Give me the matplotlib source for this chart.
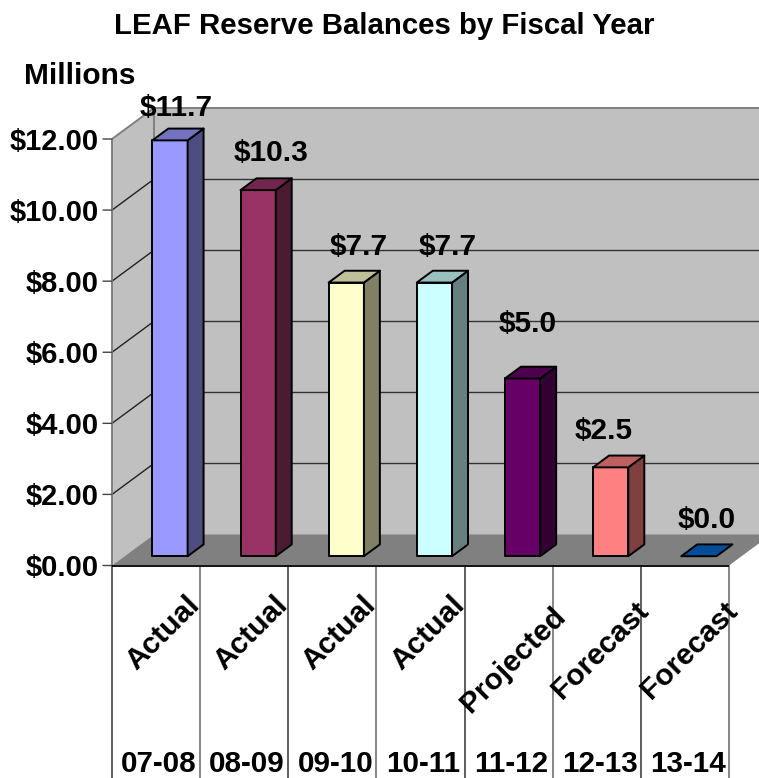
import matplotlib as mpl
mpl.use('Agg')
from matplotlib import pyplot as plt
from matplotlib.patches import Polygon
from matplotlib.colors import to_rgb

plt.rcParams['font.family'] = ['Liberation Sans', 'DejaVu Sans']
plt.rcParams['font.weight'] = 'bold'

# reserve balances, $ millions
years = ['07-08', '08-09', '09-10', '10-11', '11-12', '12-13', '13-14']
status = ['Actual', 'Actual', 'Actual', 'Actual', 'Projected', 'Forecast', 'Forecast']
balances = [11.7, 10.3, 7.7, 7.7, 5.0, 2.5, 0.0]
balance_labels = ['$11.7', '$10.3', '$7.7', '$7.7', '$5.0', '$2.5', '$0.0']
bar_colors = ['#9999FF', '#993366', '#FFFFCC', '#CCFFFF', '#660066', '#FF8080', '#0066CC']
yticks = [0, 2, 4, 6, 8, 10, 12]

# label nudges in pixels
label_dx = [-18, -11, -11, -11, -19, -31, -16]
label_dy = [7, 11, 10, 10, 29, 11, 10]
status_dx = [7, 7, 7, 7, 4, 4, 4]
status_dy = [-67, -67, -67, -67, -95, -85, -85]

W, H = 759, 778
fig = plt.figure(figsize=(W / 100, H / 100), dpi=100, facecolor='white')

# the axes is the front plane of the fake 3D box
left, right, base, top = 112, 729, 565.5, 139
ax = fig.add_axes([left / W, 1 - base / H, (right - left) / W, (base - top) / H])
ax.set_xlim(0, len(years))
ax.set_ylim(0, 12)
ax.axis('off')

# how far one full unit of depth moves a point, in data units
depth_x = 42 / ((right - left) / len(years))
depth_y = 31 / ((base - top) / 12)


def proj(x, y, d):
    return (x + d * depth_x, y + d * depth_y)


def face(pts, color, ec='none', lw=0, z=1):
    ax.add_patch(Polygon([proj(*p) for p in pts], closed=True, facecolor=color,
                         edgecolor=ec, linewidth=lw, clip_on=False, zorder=z,
                         joinstyle='round'))


def seg(p0, p1, color, lw, z=2):
    a, b = proj(*p0), proj(*p1)
    ax.plot([a[0], b[0]], [a[1], b[1]], color=color, lw=lw, clip_on=False, zorder=z,
            solid_capstyle='butt')


def shade(c, f):
    return tuple(v * f for v in to_rgb(c))


n = len(years)
wall = '#C0C0C0'
floor = '#808080'

# walls and floor
face([(0, 0, 1), (n + 1, 0, 1), (n + 1, 12, 1), (0, 12, 1)], wall)
face([(0, 0, 0), (0, 12, 0), (0, 12, 1), (0, 0, 1)], wall)
face([(0, 0, 0), (n, 0, 0), (n, 0, 1), (0, 0, 1)], floor)

# gridlines along side wall and back wall
for v in yticks[1:-1]:
    seg((0, v, 0), (0, v, 1), '#222222', 1.0)
    seg((0, v, 1), (n + 1, v, 1), '#333333', 1.0)
seg((0, 12, 0), (0, 12, 1), '#808080', 1.4)
seg((0, 12, 1), (n + 1, 12, 1), '#808080', 1.4)
seg((0, 0, 0), (0, 12, 0), '#808080', 1.4)
seg((0, 0, 1), (0, 12, 1), '#808080', 1.4)

# bars sit between these depths, inside each category slot
d0, d1 = 0.3, 0.68
slot0, slot1 = 0.315, 0.715
for i, (v, c) in enumerate(zip(balances, bar_colors)):
    x0, x1 = i + slot0, i + slot1
    if v > 0:
        face([(x0, 0, d0), (x1, 0, d0), (x1, v, d0), (x0, v, d0)], c, 'black', 1.4, 5)
        face([(x1, 0, d0), (x1, 0, d1), (x1, v, d1), (x1, v, d0)], shade(c, 0.5), 'black', 1.4, 5)
    face([(x0, v, d0), (x1, v, d0), (x1, v, d1), (x0, v, d1)], shade(c, 0.75), 'black', 1.4, 5)
    tx, ty = proj((x0 + x1) / 2, v, d1)
    ax.annotate(balance_labels[i], (tx + 0.09, ty), xytext=(label_dx[i], label_dy[i]),
                textcoords='offset pixels', ha='center', va='bottom', fontsize=21.5,
                color='black', zorder=8, annotation_clip=False)

# front edge of the floor and the value axis
seg((0, 0, 0), (n, 0, 0), '#111111', 1.4, 6)
for v in yticks:
    ax.annotate('', (0, v), xytext=(-9, 0), textcoords='offset pixels',
                arrowprops=dict(arrowstyle='-', color='#444444', lw=1.0, shrinkA=0, shrinkB=0),
                annotation_clip=False)
    ax.annotate('$%.2f' % v, (0, v), xytext=(-13, 0), textcoords='offset pixels',
                ha='right', va='center_baseline', fontsize=21, annotation_clip=False)

# category separators run down to the bottom edge of the figure
for i in range(n + 1):
    sep = ax.get_xaxis_transform()
    ax.plot([i, i], [0, -212 / ((base - top))], transform=sep, color='#333333' if i % 2 == 0 else '#666666',
            lw=1.1, clip_on=False, zorder=3)

# two-level category labels
for i in range(n):
    ax.annotate(status[i], (i + 0.5, 0), xytext=(status_dx[i], status_dy[i]),
                textcoords='offset pixels', ha='center', va='center', rotation=45,
                rotation_mode='anchor', fontsize=21.5, annotation_clip=False)
    ax.annotate(years[i], (i + 0.5, 0), xytext=(3, -196), textcoords='offset pixels',
                ha='center', va='center_baseline', fontsize=21.3, annotation_clip=False)

fig.text(384 / W, 1 - 26 / H, 'LEAF Reserve Balances by Fiscal Year', ha='center', va='center', fontsize=21.2)
fig.text(24 / W, 1 - 75.5 / H, 'Millions', ha='left', va='center', fontsize=21.5)

fig.savefig('out.png', dpi=100)
